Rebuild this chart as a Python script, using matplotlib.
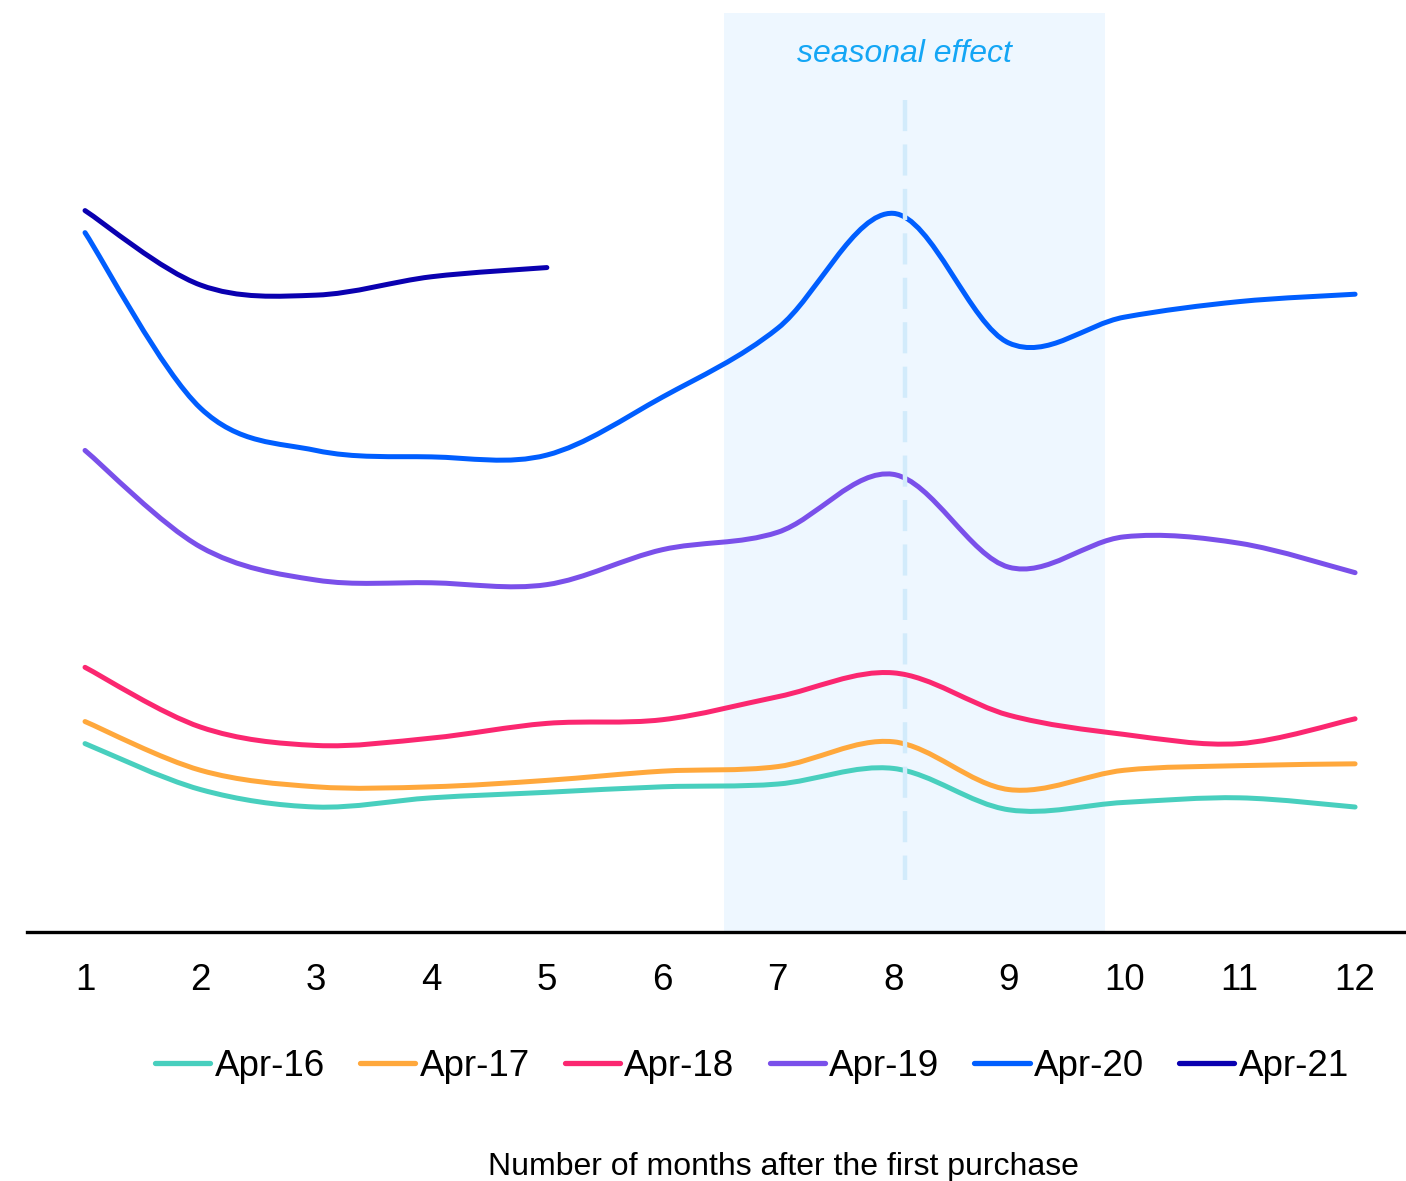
import numpy as np
import matplotlib
matplotlib.use("Agg")
import matplotlib.pyplot as plt
from matplotlib.path import Path
from matplotlib.patches import PathPatch
from matplotlib.lines import Line2D

plt.rcParams['font.family'] = ['Liberation Sans', 'DejaVu Sans']

# data (arbitrary units)
months = list(range(1, 13))
cohorts = ['Apr-16', 'Apr-17', 'Apr-18', 'Apr-19', 'Apr-20', 'Apr-21']
apr16 = [20.5, 15.5, 13.6, 14.6, 15.2, 15.8, 16.1, 17.8, 13.3, 14.1, 14.6, 13.6]
apr17 = [22.9, 17.6, 15.8, 15.8, 16.5, 17.5, 18.0, 20.7, 15.5, 17.6, 18.1, 18.3]
apr18 = [28.8, 22.3, 20.3, 21.1, 22.7, 23.1, 25.6, 28.2, 23.6, 21.5, 20.5, 23.2]
apr19 = [52.4, 41.9, 38.3, 38.0, 37.8, 41.6, 43.5, 49.8, 39.7, 43.0, 42.3, 39.1]
apr20 = [76.1, 57.0, 52.4, 51.7, 51.9, 58.2, 65.7, 78.2, 64.1, 66.9, 68.6, 69.4]
apr21 = [78.5, 70.4, 69.3, 71.3, 72.3]
colors = ['#48cfbe', '#ffa83c', '#fb2770', '#7a50ea', '#005eff', '#0a00b0']

season_start, season_end = 6.535, 9.835
season_mark = 8.1


def smooth_path(xs, ys):
    # catmull-rom through the points, written as cubic bezier segments
    p = np.column_stack([xs, ys]).astype(float)
    ext = np.vstack([p[0], p, p[-1]])
    verts = [tuple(p[0])]
    codes = [Path.MOVETO]
    for i in range(len(p) - 1):
        p0, p1, p2, p3 = ext[i], ext[i + 1], ext[i + 2], ext[i + 3]
        c1 = p1 + (p2 - p0) / 6.0
        c2 = p2 - (p3 - p1) / 6.0
        verts += [tuple(c1), tuple(c2), tuple(p2)]
        codes += [Path.CURVE4] * 3
    return Path(verts, codes)


fig = plt.figure(figsize=(14.06, 11.81), dpi=100)
ax = fig.add_axes([27.3 / 1406, 249 / 1181, 1385.5 / 1406, 919 / 1181])
ax.set_xlim(0.5, 12.5)
ax.set_ylim(0, 100)

ax.axvspan(season_start, season_end, color='#eef7ff', lw=0, zorder=0)

series = [apr16, apr17, apr18, apr19, apr20, apr21]
handles = []
for name, vals, col in zip(cohorts, series, colors):
    path = smooth_path(months[:len(vals)], vals)
    ax.add_patch(PathPatch(path, fill=False, edgecolor=col, lw=3.6,
                           capstyle='round', joinstyle='round', zorder=2))
    handles.append(Line2D([], [], color=col, lw=3.8, solid_capstyle='round'))

ax.plot([season_mark, season_mark], [90.5, 5.7], color='#d2ebfb', lw=3.2,
        linestyle=(0, (7, 3)), zorder=3)
ax.text(season_mark, 0.955, 'seasonal effect', transform=ax.get_xaxis_transform(),
        ha='center', va='center', style='italic', fontsize=23, color='#14a6f5')

for s in ['top', 'left', 'right']:
    ax.spines[s].set_visible(False)
ax.spines['bottom'].set_linewidth(2.4)
ax.spines['bottom'].set_color('black')
ax.set_yticks([])
ax.set_xticks(months)
ax.set_xticklabels([str(m) for m in months])
ax.tick_params(axis='x', length=0, pad=22, labelsize=26.5, labelcolor='black')

fig.legend(handles, cohorts, loc='center', bbox_to_anchor=(752 / 1406, 1 - 1066 / 1181),
           ncol=6, frameon=False, fontsize=26.5, handlelength=1.5, handletextpad=0.12,
           columnspacing=0.95)

fig.text(783.5 / 1406, 1 - 1167 / 1181, 'Number of months after the first purchase',
         ha='center', va='center', fontsize=23, color='black')

fig.savefig('out.png', dpi=100)
